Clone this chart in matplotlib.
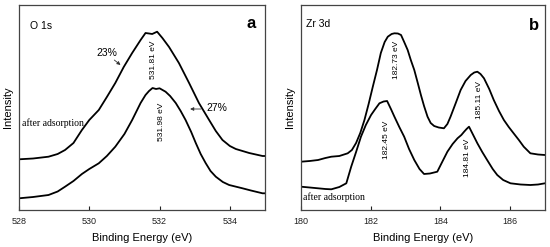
import matplotlib
matplotlib.use('Agg')
import matplotlib.pyplot as plt

plt.rcParams['font.family'] = ['Liberation Sans', 'DejaVu Sans']

# O 1s (panel a), intensity in arbitrary units
o1s_x = [528.0, 528.4, 528.84, 529.1, 529.31, 529.55, 529.79, 530.0, 530.27, 530.5,
         530.74, 530.98, 531.22, 531.46, 531.6, 531.7, 531.79, 531.93, 532.08, 532.27,
         532.55, 532.84, 533.12, 533.41, 533.6, 533.79, 534.0, 534.17, 534.55, 534.93,
         535.0]
o1s_before = [50.7, 51.5, 53.3, 56, 60, 67, 80, 90, 100, 113,
              127, 143, 157, 170, 177, 176.5, 176, 178.3, 172, 163,
              147, 127, 107, 90, 79, 70, 64, 61, 57, 54,
              54]
o1s_x2 = [528.0, 528.4, 528.84, 529.1, 529.31, 529.55, 529.79, 530.0, 530.27, 530.5,
          530.74, 531.0, 531.22, 531.46, 531.6, 531.7, 531.8, 531.9, 532.0, 532.17,
          532.3, 532.46, 532.6, 532.74, 532.9, 533.03, 533.17, 533.31, 533.45, 533.6,
          533.8, 533.98, 534.36, 534.6, 534.93, 535.0]
o1s_after = [11.7, 13, 15, 18.5, 23.3, 29, 36, 41, 46.7, 54,
             63.3, 76, 90, 107, 115, 119, 122, 121, 121.7, 118.3,
             114, 107, 99, 90, 78, 67, 56, 47, 39, 33.3,
             28, 25, 21.7, 19.5, 16.7, 16.7]

# Zr 3d (panel b)
zr_x = [180.0, 180.25, 180.49, 180.7, 180.87, 181.1, 181.34, 181.46, 181.58, 181.7,
        181.82, 181.94, 182.06, 182.18, 182.29, 182.4, 182.49, 182.6, 182.68, 182.78,
        182.87, 182.96, 183.06, 183.15, 183.25, 183.35, 183.44, 183.53, 183.63, 183.72,
        183.82, 183.95, 184.1, 184.2, 184.29, 184.44, 184.58, 184.72, 184.87, 184.97,
        185.06, 185.15, 185.25, 185.4, 185.53, 185.68, 185.82, 185.96, 186.1, 186.25,
        186.39, 186.58, 186.8, 187.0]
zr_before = [48.3, 49, 50, 52, 53.3, 54, 56.7, 60, 67, 77,
             90, 106, 123.3, 140, 157, 168, 173.3, 176, 176.7, 176.5,
             175, 168, 160, 150, 140, 127, 115, 104, 93.3, 87,
             84, 82.5, 81.7, 86, 93.3, 107, 120, 129, 135, 137.5,
             138.3, 136, 131.7, 121, 110, 99, 90, 83, 76.7, 70,
             63.3, 56.7, 55.5, 55]
zr_x2 = [180.0, 180.25, 180.49, 180.7, 180.87, 181.1, 181.3, 181.44, 181.58, 181.72,
         181.86, 182.01, 182.13, 182.25, 182.37, 182.47, 182.58, 182.68, 182.82, 182.96,
         183.1, 183.25, 183.4, 183.53, 183.7, 183.91, 184.05, 184.2, 184.35, 184.49,
         184.6, 184.68, 184.75, 184.82, 184.94, 185.06, 185.2, 185.34, 185.5, 185.63,
         185.8, 186.01, 186.3, 186.58, 186.8, 187.0]
zr_after = [23.3, 22.5, 21.7, 21, 20.7, 23, 26.7, 43.3, 58, 73.3,
            85, 95, 101, 106.7, 108.5, 109, 101, 93.3, 83, 73.3,
            61, 50, 41, 36, 36.5, 38.3, 48, 58.3, 66, 71.7,
            75, 78.3, 81, 83.3, 75, 66.7, 58, 50, 41, 35,
            30, 26.7, 25.5, 25, 25.5, 26.7]

fig = plt.figure(figsize=(5.5, 2.47), dpi=100)
axa = fig.add_axes([19 / 550, 37 / 247, 246 / 550, 205 / 247])
axb = fig.add_axes([301 / 550, 37 / 247, 244 / 550, 205 / 247])

serif = ['Liberation Serif', 'DejaVu Serif']

def style(ax, x0, ticks):
    ax.set_xlim(x0, x0 + 7)
    ax.set_ylim(0, 205)
    ax.set_xticks(ticks)
    ax.set_xticklabels([str(t) for t in ticks])
    ax.set_yticks([])
    ax.tick_params(axis='x', direction='in', length=3, width=0.8, labelsize=6.5,
                   pad=5, colors='#222222')
    for s in ax.spines.values():
        s.set_linewidth(0.9)
        s.set_color('#444444')
    ax.set_xlabel('Binding Energy (eV)', fontsize=8, labelpad=5)
    ax.set_ylabel('Intensity', fontsize=8, labelpad=4)

# panel a
axa.plot(o1s_x, o1s_before, color='black', lw=1.3)
axa.plot(o1s_x2, o1s_after, color='black', lw=1.3)
style(axa, 528, [528, 530, 532, 534])
axa.text(528.31, 184, 'O 1s', fontsize=7.5, va='center')
axa.text(534.6, 187, 'a', fontsize=12, fontweight='bold', ha='center', va='center')
axa.text(530.51, 157, '23%', fontsize=7.5, ha='center', va='center')
axa.annotate('', xy=(530.95, 143.3), xytext=(530.65, 151.7),
             arrowprops=dict(arrowstyle='-|>', color='#333333', lw=0.6, mutation_scale=5))
axa.text(533.63, 102, '27%', fontsize=7.5, ha='center', va='center')
axa.annotate('', xy=(532.79, 101), xytext=(533.26, 101),
             arrowprops=dict(arrowstyle='-|>', color='#333333', lw=0.6, mutation_scale=5))
axa.text(531.82, 150, '531.81 eV', fontsize=6, rotation=90, ha='center', va='center')
axa.text(532.05, 88.3, '531.98 eV', fontsize=6, rotation=90, ha='center', va='center')
axa.text(528.09, 87, 'after adsorption', fontsize=7, family=serif, va='center')

# panel b
axb.plot(zr_x, zr_before, color='black', lw=1.3)
axb.plot(zr_x2, zr_after, color='black', lw=1.3)
style(axb, 180, [180, 182, 184, 186])
axb.text(180.14, 186, 'Zr 3d', fontsize=7.5, va='center')
axb.text(186.69, 185, 'b', fontsize=12, fontweight='bold', ha='center', va='center')
axb.text(182.75, 150, '182.73 eV', fontsize=6, rotation=90, ha='center', va='center')
axb.text(182.44, 70, '182.45 eV', fontsize=6, rotation=90, ha='center', va='center')
axb.text(185.11, 110, '185.11 eV', fontsize=6, rotation=90, ha='center', va='center')
axb.text(184.79, 52, '184.81 eV', fontsize=6, rotation=90, ha='center', va='center')
axb.text(180.06, 13.3, 'after adsorption', fontsize=7, family=serif, va='center')

fig.savefig('out.png', dpi=100)
